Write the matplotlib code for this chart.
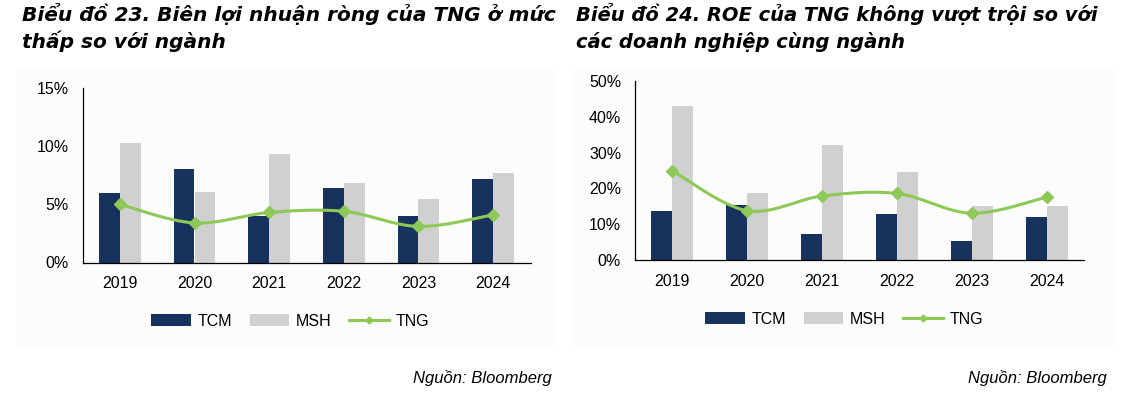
import numpy as np
import matplotlib.pyplot as plt
from matplotlib.patches import Rectangle
from matplotlib.ticker import FuncFormatter

years = ['2019', '2020', '2021', '2022', '2023', '2024']

# Bieu do 23 - bien loi nhuan rong (%)
tcm_margin = [6.0, 8.0, 4.0, 6.4, 4.0, 7.2]
msh_margin = [10.3, 6.1, 9.3, 6.8, 5.5, 7.7]
tng_margin = [5.0, 3.4, 4.3, 4.4, 3.1, 4.1]

# Bieu do 24 - ROE (%)
tcm_roe = [13.7, 15.5, 7.2, 12.9, 5.5, 12.1]
msh_roe = [42.9, 18.6, 32.0, 24.6, 15.1, 15.1]
tng_roe = [24.9, 13.8, 17.9, 18.6, 13.1, 17.6]

navy = '#17325C'
grey = '#D0D0D0'
green = '#8DC956'

plt.rcParams['font.family'] = ['Liberation Sans', 'DejaVu Sans']

W, H = 1123, 400


def smooth(x, y, n=30):
    # excel-like smoothed line (catmull-rom through bezier)
    x = np.asarray(x, float)
    y = np.asarray(y, float)
    px = np.concatenate([[x[0]], x, [x[-1]]])
    py = np.concatenate([[y[0]], y, [y[-1]]])
    xs, ys = [], []
    t = np.linspace(0, 1, n)
    for i in range(1, len(x)):
        p0 = np.array([px[i], py[i]])
        p3 = np.array([px[i + 1], py[i + 1]])
        c1 = p0 + (p3 - np.array([px[i - 1], py[i - 1]])) / 6
        c2 = p3 - (np.array([px[i + 2], py[i + 2]]) - p0) / 6
        pts = ((1 - t) ** 3)[:, None] * p0 + (3 * (1 - t) ** 2 * t)[:, None] * c1 \
            + (3 * (1 - t) * t ** 2)[:, None] * c2 + (t ** 3)[:, None] * p3
        xs.extend(pts[:, 0])
        ys.extend(pts[:, 1])
    return xs, ys


def draw(ax, tcm, msh, tng, ymax, step, leg_xy):
    x = np.arange(len(years))
    w = 0.28
    b1 = ax.bar(x - w / 2, tcm, w, color=navy, zorder=2)
    b2 = ax.bar(x + w / 2, msh, w, color=grey, zorder=2)
    sx, sy = smooth(x, tng)
    ax.plot(sx, sy, color=green, lw=2.2, zorder=3)
    ax.plot(x, tng, linestyle='none', marker='D', ms=6, color=green, zorder=4)
    l1, = ax.plot([], [], color=green, lw=2.2, marker='D', ms=3.5)
    ax.set_xlim(-0.5, len(years) - 0.5)
    ax.set_ylim(0, ymax)
    ax.set_yticks(np.arange(0, ymax + 0.1, step))
    ax.yaxis.set_major_formatter(FuncFormatter(lambda v, p: '%d%%' % v))
    ax.set_xticks(x)
    ax.set_xticklabels(years)
    ax.tick_params(length=0, labelsize=11.5, pad=10)
    for s in ['top', 'right']:
        ax.spines[s].set_visible(False)
    ax.spines['left'].set_linewidth(0.9)
    ax.spines['bottom'].set_linewidth(0.9)
    ax.set_facecolor('none')
    fig.legend([b1, b2, l1], ['TCM', 'MSH', 'TNG'], loc='center',
               bbox_to_anchor=(leg_xy[0] / W, 1 - leg_xy[1] / H), ncol=3, frameon=False,
               fontsize=11.5, handlelength=2.5, columnspacing=1.1, handletextpad=0.4)


fig = plt.figure(figsize=(11.23, 4), dpi=100)

# faint panels behind the charts
fig.patches.append(Rectangle((18 / W, 1 - 345 / H), (552 - 18) / W, (345 - 68) / H,
                             transform=fig.transFigure, color='#FCFCFC', zorder=-10))
fig.patches.append(Rectangle((575 / W, 1 - 345 / H), (1112 - 575) / W, (345 - 68) / H,
                             transform=fig.transFigure, color='#FCFCFC', zorder=-10))

ax1 = fig.add_axes([82.5 / W, 1 - 262.5 / H, (530.5 - 82.5) / W, (262.5 - 88) / H])
draw(ax1, tcm_margin, msh_margin, tng_margin, 15, 5, (290, 321))

ax2 = fig.add_axes([635 / W, 1 - 260.3 / H, (1084 - 635) / W, (260.3 - 80.7) / H])
draw(ax2, tcm_roe, msh_roe, tng_roe, 50, 10, (844, 319))

tkw = dict(fontweight='bold', fontstyle='italic', va='baseline', family=['DejaVu Sans'])
fig.text(22 / W, 1 - 21 / H, 'Biểu đồ 23. Biên lợi nhuận ròng của TNG ở mức',
         fontsize=14.5, **tkw)
fig.text(22 / W, 1 - 48 / H, 'thấp so với ngành', fontsize=14.5, **tkw)
fig.text(576 / W, 1 - 21 / H, 'Biểu đồ 24. ROE của TNG không vượt trội so với',
         fontsize=14, **tkw)
fig.text(576 / W, 1 - 48 / H, 'các doanh nghiệp cùng ngành', fontsize=14, **tkw)

fig.text(552 / W, 1 - 383 / H, 'Nguồn: Bloomberg', fontsize=12, fontstyle='italic',
         ha='right', va='baseline')
fig.text(1107 / W, 1 - 383 / H, 'Nguồn: Bloomberg', fontsize=12, fontstyle='italic',
         ha='right', va='baseline')

fig.savefig('out.png', dpi=100)
